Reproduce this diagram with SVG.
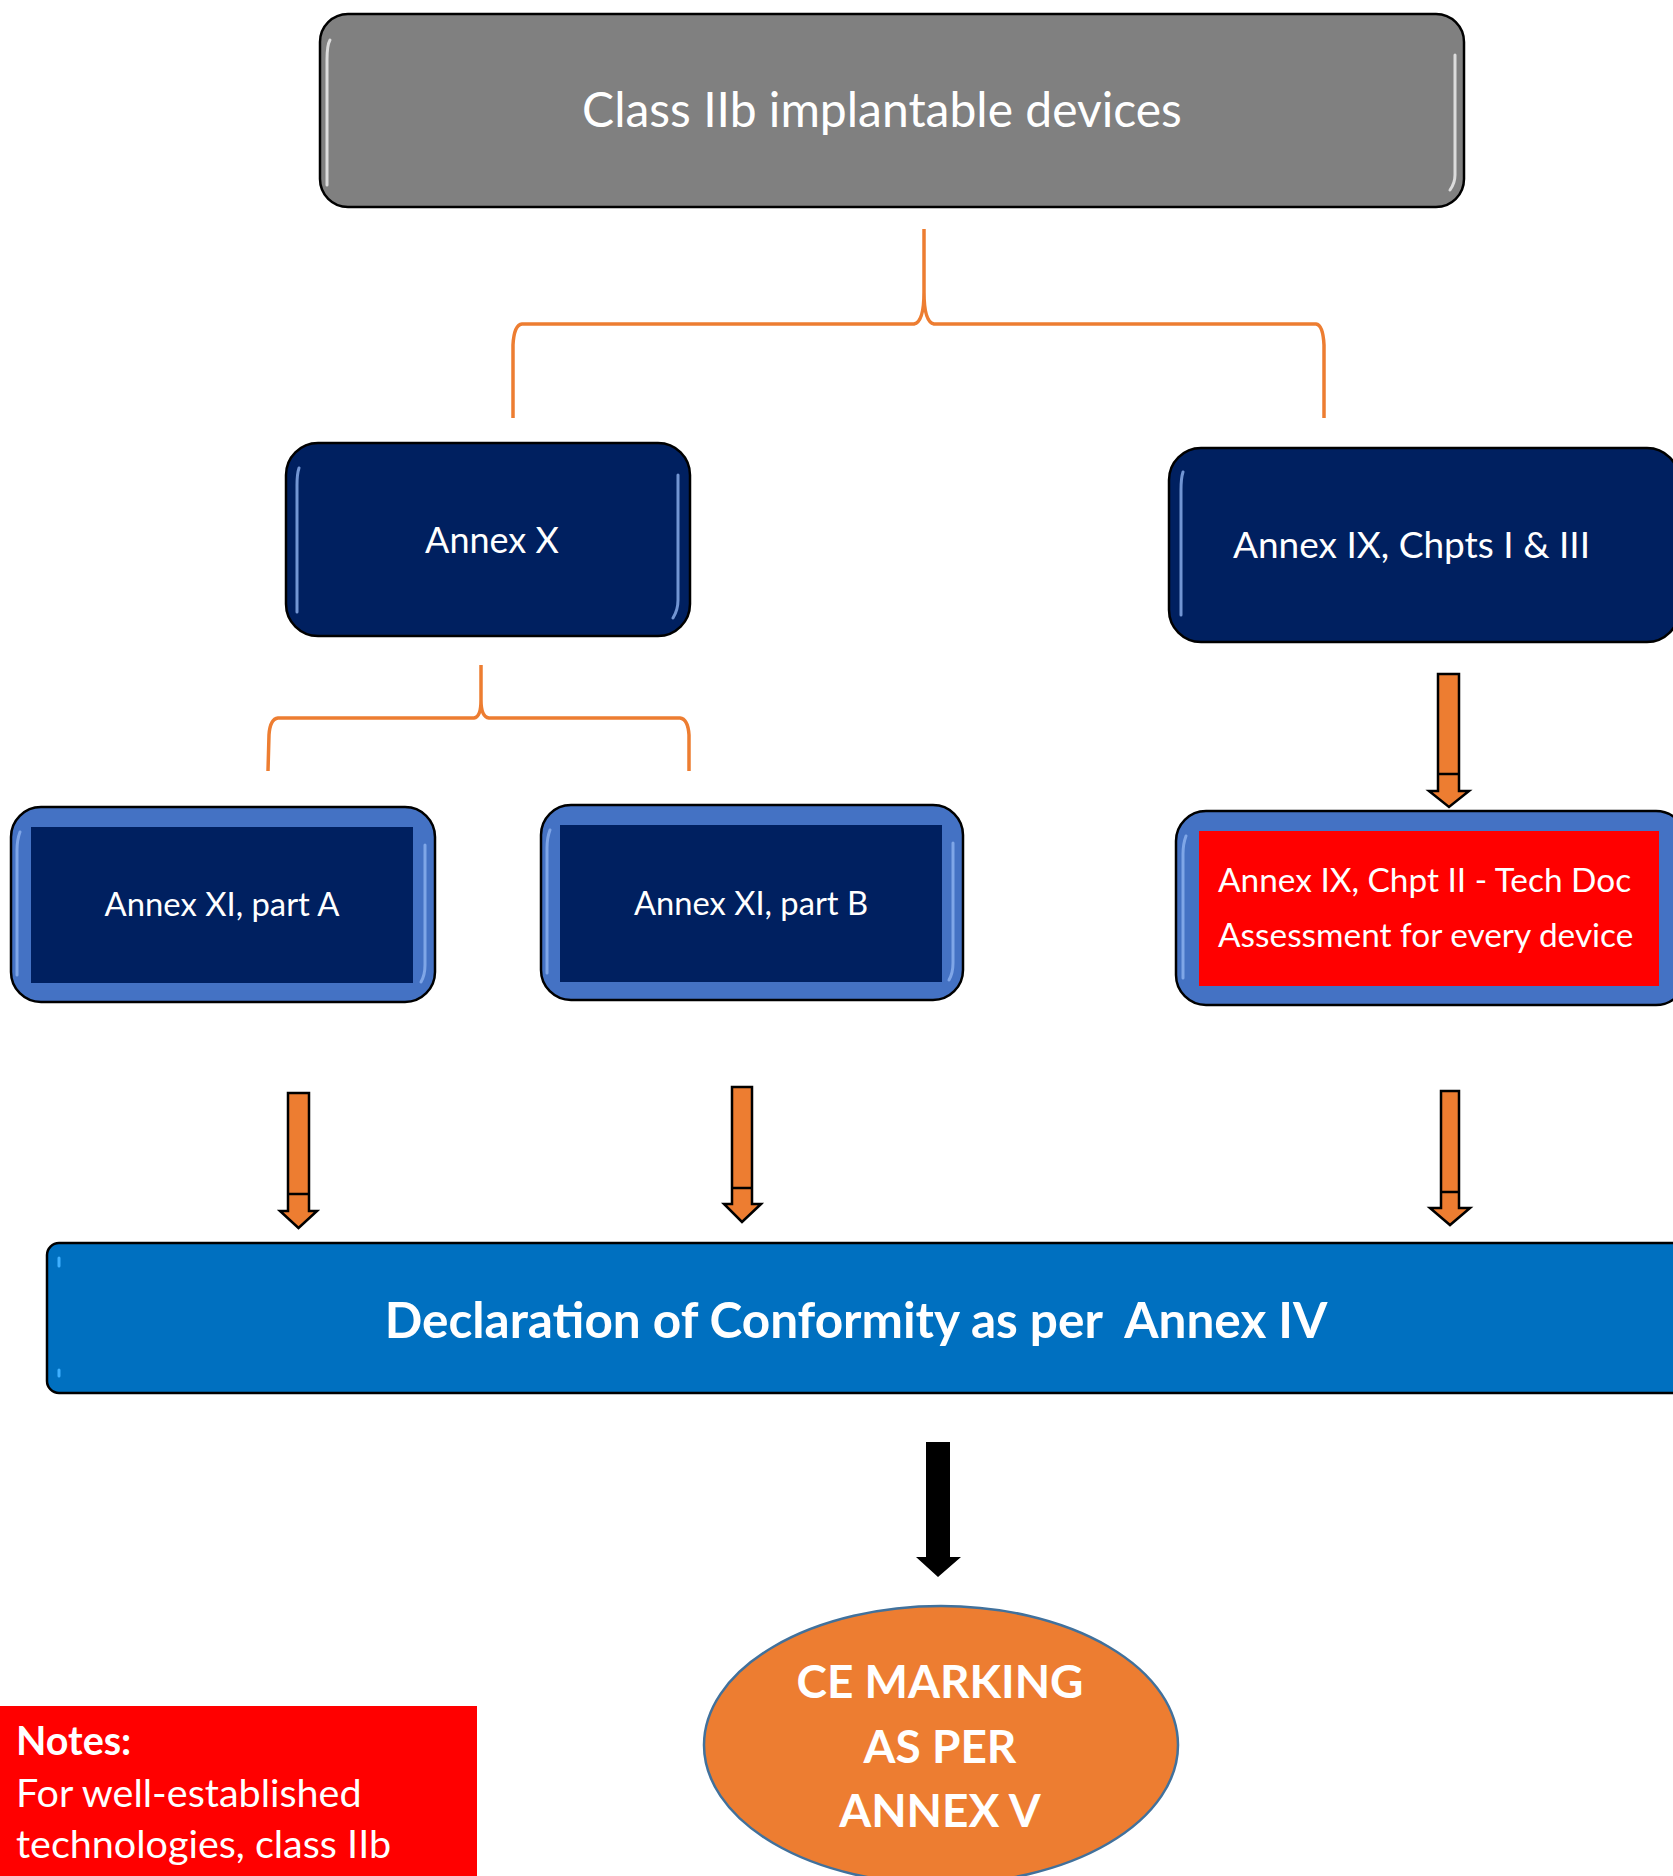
<svg xmlns="http://www.w3.org/2000/svg" width="1673" height="1876" viewBox="0 0 1673 1876">
<style>
.t{font-family:Lato,"Liberation Sans",sans-serif;fill:#fff}
.c{text-anchor:middle}
.b{font-weight:bold}
.navy{fill:#002060;stroke:#000;stroke-width:2.5}
.bevel{fill:#4472C4;stroke:#000;stroke-width:2.5}
.hl{stroke:#8fb3f0;stroke-width:3;stroke-linecap:round;fill:none;opacity:.8}
.hlw{stroke:#e6e6e6;stroke-width:3;stroke-linecap:round;fill:none;opacity:.9}
.brace{fill:none;stroke:#ED7D31;stroke-width:3.5}
.oarr{fill:#ED7D31;stroke:#000;stroke-width:2.5;stroke-linejoin:miter}
.sep{stroke:#000;stroke-width:2.5}
</style>
<rect width="1673" height="1876" fill="#fff"/>

<g id="connectors">
<path class="brace" d="M924,229 L924,292 Q924,322 914,324 L522,324 Q514,325 513,345 L513,418 M924,292 Q924,322 934,324 L1316,324 Q1323,325 1324,345 L1324,418"/>
<path class="brace" d="M481,665 L481,700 Q481,717 474,718 L278,718 Q270,719 269,735 L268,771 M481,700 Q481,717 489,718 L680,718 Q688,719 689,735 L689,771"/>
<g id="arrow-ix-to-ii">
<polygon class="oarr" points="1438,674 1459,674 1459,791 1469,791 1449,807 1429,791 1438,791"/>
<line class="sep" x1="1438" y1="774" x2="1459" y2="774"/>
</g>
<g id="arrow-a-to-doc">
<polygon class="oarr" points="288,1093 309,1093 309,1211 317,1211 298.5,1228 280,1211 288,1211"/>
<line class="sep" x1="288" y1="1194" x2="309" y2="1194"/>
</g>
<g id="arrow-b-to-doc">
<polygon class="oarr" points="732,1087 752,1087 752,1204 761,1204 742,1222 724,1204 732,1204"/>
<line class="sep" x1="732" y1="1188" x2="752" y2="1188"/>
</g>
<g id="arrow-ii-to-doc">
<polygon class="oarr" points="1441,1091 1459,1091 1459,1208 1470,1208 1450,1225 1430,1208 1441,1208"/>
<line class="sep" x1="1441" y1="1192" x2="1459" y2="1192"/>
</g>
<polygon id="arrow-doc-to-ce" fill="#000" points="926,1442 950,1442 950,1557 961,1557 938,1577 916,1557 926,1557"/>
</g>

<g id="node-class-iib">
<rect x="320" y="14" width="1144" height="193" rx="28" fill="#808080" stroke="#000" stroke-width="2.5"/>
<path class="hlw" d="M330,40 Q327,45 327,60 L327,185"/>
<path class="hlw" d="M1455,55 L1455,175 Q1455,183 1450,190"/>
<text class="t c" x="882" y="127" font-size="48">Class IIb implantable devices</text>
</g>

<g id="node-annex-x">
<rect class="navy" x="286" y="443" width="404" height="193" rx="32"/>
<path class="hl" d="M299,468 Q297,474 297,485 L297,612"/>
<path class="hl" d="M678,475 L678,600 Q678,610 673,618"/>
<text class="t c" x="492" y="553" font-size="36">Annex X</text>
</g>

<g id="node-annex-ix">
<rect class="navy" x="1169" y="448" width="510" height="194" rx="32"/>
<path class="hl" d="M1183,472 Q1181,478 1181,490 L1181,615"/>
<text class="t" x="1233" y="558" font-size="37">Annex IX, Chpts I &amp; III</text>
</g>

<g id="node-annex-xi-a">
<rect class="bevel" x="11" y="807" width="424" height="195" rx="30"/>
<rect x="31" y="827" width="382" height="156" fill="#002060"/>
<path class="hl" d="M20,832 Q17,840 17,850 L17,975" stroke="#c8dcff"/>
<path class="hl" d="M425,845 L425,965 Q425,975 421,982" stroke="#c8dcff"/>
<text class="t c" x="222" y="916" font-size="32.8">Annex XI, part A</text>
</g>

<g id="node-annex-xi-b">
<rect class="bevel" x="541" y="805" width="422" height="195" rx="30"/>
<rect x="560" y="825" width="382" height="157" fill="#002060"/>
<path class="hl" d="M550,830 Q547,838 547,848 L547,973" stroke="#c8dcff"/>
<path class="hl" d="M953,843 L953,963 Q953,973 949,980" stroke="#c8dcff"/>
<text class="t c" x="751" y="915" font-size="32.7">Annex XI, part B</text>
</g>

<g id="node-annex-ix-ii">
<rect class="bevel" x="1176" y="811" width="510" height="194" rx="30"/>
<rect x="1199" y="831" width="460" height="155" fill="#FF0000"/>
<path class="hl" d="M1186,836 Q1183,844 1183,854 L1183,978" stroke="#c8dcff"/>
<text class="t" x="1218" y="892" font-size="33.4">Annex IX, Chpt II - Tech Doc</text>
<text class="t" x="1218" y="947" font-size="33.4">Assessment for every device</text>
</g>

<g id="node-declaration">
<rect x="47" y="1243" width="1640" height="150" rx="12" fill="#0070C0" stroke="#000" stroke-width="2.5"/>
<line x1="59" y1="1258" x2="59" y2="1266" stroke="#3fb0ff" stroke-width="3" stroke-linecap="round"/>
<line x1="59" y1="1370" x2="59" y2="1376" stroke="#3fb0ff" stroke-width="3" stroke-linecap="round"/>
<text class="t c b" x="856" y="1338" font-size="49.5" xml:space="preserve">Declaration of Conformity as per  Annex IV</text>
</g>

<g id="node-ce-marking">
<ellipse cx="941" cy="1745" rx="237" ry="139" fill="#ED7D31" stroke="#41719C" stroke-width="2.5"/>
<text class="t c b" x="940" y="1698" font-size="46">CE MARKING</text>
<text class="t c b" x="940" y="1763" font-size="46">AS PER</text>
<text class="t c b" x="940" y="1827" font-size="46">ANNEX V</text>
</g>

<g id="node-notes">
<rect x="0" y="1706" width="477" height="172" fill="#FF0000"/>
<text class="t b" x="16" y="1755" font-size="39.5">Notes:</text>
<text class="t" x="16" y="1807" font-size="39.5">For well-established</text>
<text class="t" x="16" y="1858" font-size="39.5">technologies, class IIb</text>
</g>
</svg>
